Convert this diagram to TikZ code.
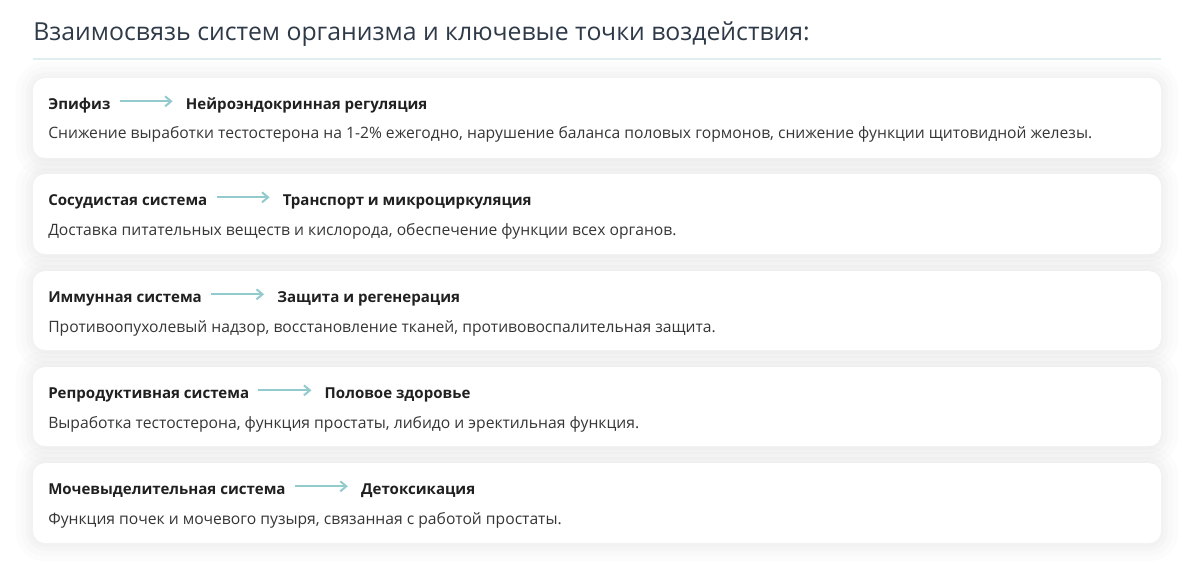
\documentclass[tikz,border=0pt]{standalone}
\usepackage{fontspec}
\setmainfont{Open Sans}
\usepackage{tikz}
\usetikzlibrary{positioning, arrows.meta}
\definecolor{titleink}{HTML}{2F3A48}
\definecolor{headink}{HTML}{202020}
\definecolor{bodyink}{HTML}{363636}
\definecolor{flowteal}{HTML}{92CACE}
\definecolor{ruleteal}{HTML}{DFEFEF}
\tikzset{
    cardshadow/.style={draw=black, line join=round, rounded corners=9pt, draw opacity=0.012,
        preaction={draw=black, draw opacity=0.012, line width=26pt},
        preaction={draw=black, draw opacity=0.012, line width=18pt},
        preaction={draw=black, draw opacity=0.014, line width=10pt},
        line width=4pt},
    card/.style={fill=white, rounded corners=9pt},
    sysname/.style={anchor=west, inner sep=0pt, text height=11.6pt, text depth=0pt, font=\bfseries\fontsize{11.3}{13}\selectfont, text=headink},
    bodytext/.style={anchor=base west, inner sep=0pt, font=\fontsize{11.75}{13}\selectfont, text=bodyink},
    flow/.style={draw=flowteal, line width=1.5pt, -{Straight Barb[length=4.5pt,width=7.5pt]}, shorten <=6.75pt, shorten >=9.75pt},
}

\begin{document}
\begin{tikzpicture}[x=0.75pt, y=-0.75pt, node distance=56.25pt]
                \useasboundingbox (0,0) rectangle (1199,574);
                \fill[white] (0,0) rectangle (1199,574);

                % title and rule
                \node[anchor=base west, inner sep=0pt, font=\fontsize{18.6}{22}\selectfont, text=titleink] (title) at (33,41) {Взаимосвязь систем организма и ключевые точки воздействия:};
                \draw[ruleteal, line width=1.5pt] (33,59) -- (1161,59);

                % card shadows first
                \path[cardshadow] (33,79) rectangle (1161,159);
                \path[cardshadow] (33,175) rectangle (1161,255);
                \path[cardshadow] (33,272) rectangle (1161,351);
                \path[cardshadow] (33,368) rectangle (1161,447);
                \path[cardshadow] (33,464) rectangle (1161,544);

                % cards
                \fill[card] (33,78) rectangle (1161,158);
                \fill[card] (33,174) rectangle (1161,254);
                \fill[card] (33,271) rectangle (1161,350);
                \fill[card] (33,367) rectangle (1161,446);
                \fill[card] (33,463) rectangle (1161,543);

                % card 1
                \node[sysname] (sys1) at (48,101.3) {Эпифиз};
                \node[sysname, right=of sys1] (fn1) {Нейроэндокринная регуляция};
                \draw[flow] (sys1) -- (fn1);
                \node[bodytext] (txt1) at (48,139) {Снижение выработки тестостерона на 1-2\% ежегодно, нарушение баланса половых гормонов, снижение функции щитовидной железы.};

                % card 2
                \node[sysname] (sys2) at (48,197.3) {Сосудистая система};
                \node[sysname, right=of sys2] (fn2) {Транспорт и микроциркуляция};
                \draw[flow] (sys2) -- (fn2);
                \node[bodytext] (txt2) at (48,235) {Доставка питательных веществ и кислорода, обеспечение функции всех органов.};

                % card 3
                \node[sysname] (sys3) at (48,294.3) {Иммунная система};
                \node[sysname, right=of sys3] (fn3) {Защита и регенерация};
                \draw[flow] (sys3) -- (fn3);
                \node[bodytext] (txt3) at (48,332) {Противоопухолевый надзор, восстановление тканей, противовоспалительная защита.};

                % card 4
                \node[sysname] (sys4) at (48,390.3) {Репродуктивная система};
                \node[sysname, right=of sys4] (fn4) {Половое здоровье};
                \draw[flow] (sys4) -- (fn4);
                \node[bodytext] (txt4) at (48,428) {Выработка тестостерона, функция простаты, либидо и эректильная функция.};

                % card 5
                \node[sysname] (sys5) at (48,486.3) {Мочевыделительная система};
                \node[sysname, right=of sys5] (fn5) {Детоксикация};
                \draw[flow] (sys5) -- (fn5);
                \node[bodytext] (txt5) at (48,524) {Функция почек и мочевого пузыря, связанная с работой простаты.};

\end{tikzpicture}
\end{document}
